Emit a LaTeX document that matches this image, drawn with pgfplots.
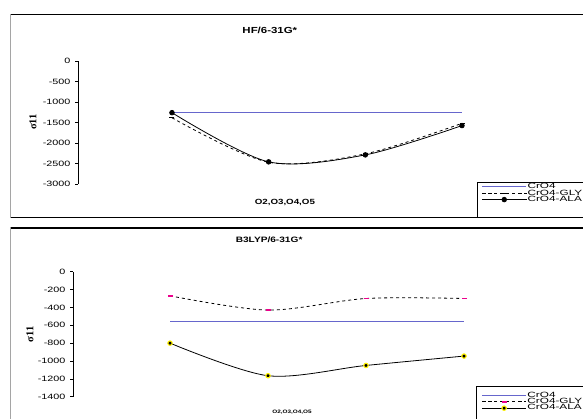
\documentclass[border=0pt]{standalone}
\usepackage{pgfplots}
\pgfplotsset{compat=1.18}
\usepackage{fontspec}
\setmainfont{Liberation Sans}
\newfontfamily\tickfont[FakeStretch=1.4]{Liberation Sans}
\newfontfamily\titlefont[FakeStretch=1.3]{Liberation Sans}
\newfontfamily\legfont[FakeStretch=1.55]{Liberation Sans}
\newfontfamily\sigfont{Liberation Serif}
\definecolor{crblue}{RGB}{102,102,204}

\pgfplotsset{
  panel/.style={
    scale only axis, anchor=south west,
    axis x line=none, axis y line*=left,
    axis line style={black, line width=0.6pt},
    ytick align=outside, major tick length=3pt,
    tick style={black, line width=0.6pt},
    yticklabel style={font=\tickfont\fontsize{7.7}{7.7}\selectfont, xshift=-1pt},
    clip=false,
    legend image code/.code={\draw[mark repeat=2,mark phase=2,##1] plot coordinates {(0pt,0pt) (22pt,0pt) (44pt,0pt)};},
    legend cell align=left,
    legend style={anchor=north west, draw=none, fill=none, inner sep=0pt,
      font=\legfont\fontsize{7.6}{7.6}\selectfont, row sep=0pt, column sep=0.5pt,
      nodes={inner sep=0.3pt, text height=4.6pt, text depth=1.1pt}},
  }
}

\begin{document}
\begin{tikzpicture}
\path[use as bounding box] (0pt,0pt) rectangle (583pt,-419pt);
\clip (0pt,0pt) rectangle (583pt,-419pt);

% ---------------- top panel ----------------
\begin{scope}
\clip (10.5pt,-14.5pt) rectangle (600pt,-218pt);
\draw[black, line width=1.3pt] (10.5pt,-14.5pt) rectangle (620pt,-218pt);
\begin{axis}[panel,
  at={(78pt,-184pt)}, width=442pt, height=123pt,
  xmin=-0.972, xmax=3.6, ymin=-3000, ymax=0,
  ytick={-3000,-2500,-2000,-1500,-1000,-500,0},
  yticklabels={-3000,-2500,-2000,-1500,-1000,-500,0},
  legend style={at={(axis description cs:0.913,0.003)}},
]
\addplot[crblue, line width=1pt, no marks] coordinates {(0,-1260) (1,-1260) (2,-1260) (3,-1260)};
\addlegendentry{CrO4}
\addplot[black, line width=0.8pt, dashed, smooth, tension=0.5, mark=-, mark size=2.5pt, mark options={solid, line width=1.4pt}] coordinates {(0,-1385) (1,-2470) (2,-2265) (3,-1520)};
\addlegendentry{CrO4-GLY}
\addplot[black, line width=0.8pt, smooth, tension=0.5, mark=*, mark size=2.3pt, mark options={solid}] coordinates {(0,-1260) (1,-2460) (2,-2290) (3,-1575)};
\addlegendentry{CrO4-ALA}
\node[font=\titlefont\bfseries\fontsize{8.8}{8.8}\selectfont, anchor=center] at (axis description cs:0.434,1.252) {HF/6-31G*};
\node[font=\titlefont\bfseries\fontsize{7.5}{7.5}\selectfont, anchor=center] at (axis description cs:0.468,-0.154) {O2,O3,O4,O5};
\node[font=\sigfont\bfseries\fontsize{10.5}{10.5}\selectfont, rotate=90, anchor=center] at (axis description cs:-0.102,0.504) {σ11};
\end{axis}
\draw[black, line width=0.6pt] (477pt,-182pt) rectangle (640pt,-240pt);
\end{scope}

% ---------------- bottom panel ----------------
\begin{scope}
\clip (10.5pt,-228pt) rectangle (600pt,-440pt);
\draw[black, line width=1.3pt] (10.5pt,-228pt) rectangle (620pt,-440pt);
\begin{axis}[panel,
  at={(73pt,-396.7pt)}, width=449.8pt, height=125pt,
  xmin=-0.99, xmax=3.6, ymin=-1400, ymax=0,
  ytick={-1400,-1200,-1000,-800,-600,-400,-200,0},
  yticklabels={-1400,-1200,-1000,-800,-600,-400,-200,0},
  legend style={at={(axis description cs:0.908,0.036)}},
]
\addplot[crblue, line width=1pt, no marks] coordinates {(0,-560) (1,-560) (2,-560) (3,-560)};
\addlegendentry{CrO4}
\addplot[black, line width=0.8pt, dashed, smooth, tension=0.5, mark=-, mark size=2.5pt, mark options={solid, magenta, line width=1.6pt}] coordinates {(0,-270) (1,-430) (2,-300) (3,-300)};
\addlegendentry{CrO4-GLY}
\addplot[black, line width=0.8pt, smooth, tension=0.5, mark=*, mark size=2.2pt, mark options={solid, draw=yellow, fill=black, line width=1.1pt}] coordinates {(0,-800) (1,-1165) (2,-1050) (3,-945)};
\addlegendentry{CrO4-ALA}
\node[font=\titlefont\bfseries\fontsize{7.8}{7.8}\selectfont, anchor=center] at (axis description cs:0.436,1.254) {B3LYP/6-31G*};
\node[font=\titlefont\bfseries\fontsize{4.9}{4.9}\selectfont, anchor=center] at (axis description cs:0.487,-0.12) {O2,O3,O4,O5};
\node[font=\sigfont\bfseries\fontsize{10.5}{10.5}\selectfont, rotate=90, anchor=center] at (axis description cs:-0.0956,0.50) {σ11};
\end{axis}
\draw[black, line width=0.6pt] (476.7pt,-386.7pt) rectangle (640pt,-440pt);
\end{scope}
\end{tikzpicture}
\end{document}
